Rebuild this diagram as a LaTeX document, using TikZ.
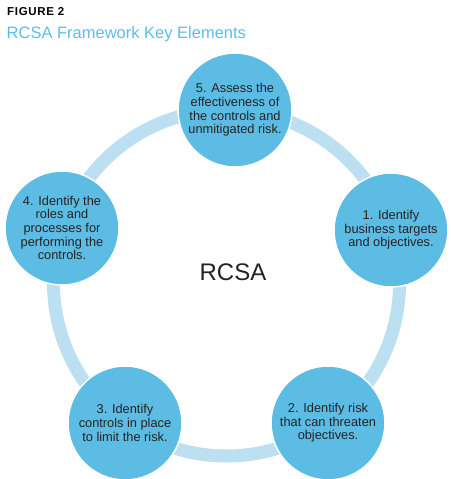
\documentclass[tikz,border=0pt]{standalone}
\usepackage{fontspec}
\setmainfont{Liberation Sans}
\definecolor{ringblue}{RGB}{188,223,241}
\definecolor{circblue}{RGB}{93,188,228}
\definecolor{titleblue}{RGB}{92,190,232}
\definecolor{txtgray}{RGB}{35,35,35}
\begin{document}
\begin{tikzpicture}[x=1pt,y=-1pt,
  stepcirc/.style={circle,fill=circblue,draw=white,line width=1.5pt,minimum size=114pt,inner sep=0pt,
    align=center,text=txtgray,font=\fontsize{12.8}{13.6}\selectfont},
  ringline/.style={draw=ringblue,line width=13pt}]
\useasboundingbox (0,0) rectangle (450,479);
\node[anchor=north west,inner sep=0pt,font=\bfseries\fontsize{11.5}{12}\selectfont\addfontfeature{LetterSpace=6},text=black] (fig) at (7,7) {FIGURE 2};
\node[anchor=north west,inner sep=0pt,font=\fontsize{16.5}{18}\selectfont,text=titleblue] (title) at (6.5,26) {RCSA Framework Key Elements};
\coordinate (c) at (226.5,283);
\draw[ringline] (c) circle[radius=173];
\node[stepcirc] (s5) at (235,110) {5. Assess the\\effectiveness of\\the controls and\\unmitigated risk.};
\node[stepcirc] (s1) at (391,230) {1. Identify\\business targets\\and objectives.};
\node[stepcirc] (s2) at (328,423) {2. Identify risk\\that can threaten\\objectives.};
\node[stepcirc] (s3) at (125,423) {3. Identify\\controls in place\\to limit the risk.};
\node[stepcirc] (s4) at (62,228) {4. Identify the\\roles and\\processes for\\performing the\\controls.};
\node[font=\fontsize{24}{28}\selectfont,text=txtgray] (rcsa) at (233,272) {RCSA};
\end{tikzpicture}
\end{document}
